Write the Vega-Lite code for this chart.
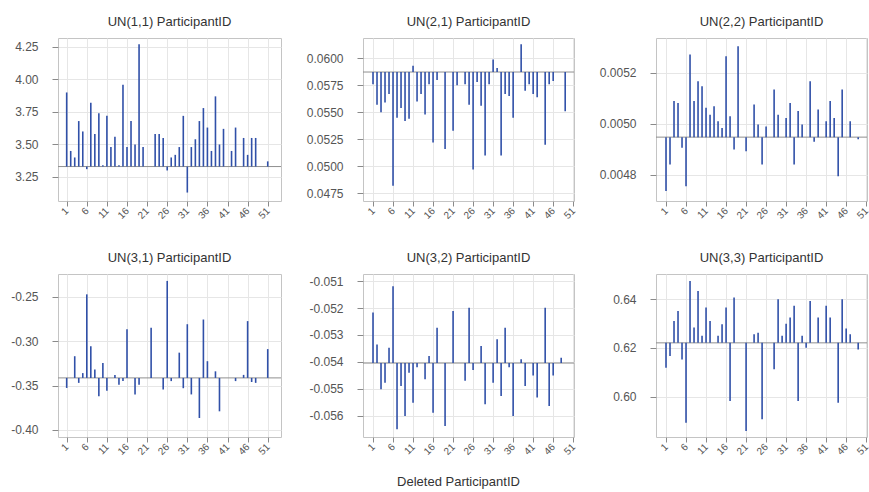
{
"$schema":"https://vega.github.io/schema/vega-lite/v6.json",
"background":"white",
"padding":{"left":10,"top":15,"right":0,"bottom":0},
"columns":3,
"bounds":"flush",
"spacing":{"row":73,"column":82},
"datasets":{
"bases":[{"p":"11","base":3.33},{"p":"21","base":0.05873},{"p":"22","base":0.004948},{"p":"31","base":-0.3414},{"p":"32","base":-0.05404},{"p":"33","base":0.6221}],
"vals":[
{"p":"11","id":1,"v":3.90},{"p":"11","id":2,"v":3.45},{"p":"11","id":3,"v":3.40},{"p":"11","id":4,"v":3.68},{"p":"11","id":5,"v":3.60},{"p":"11","id":6,"v":3.31},{"p":"11","id":7,"v":3.82},{"p":"11","id":8,"v":3.58},{"p":"11","id":9,"v":3.74},{"p":"11","id":10,"v":3.34},{"p":"11","id":11,"v":3.72},{"p":"11","id":12,"v":3.48},{"p":"11","id":13,"v":3.56},{"p":"11","id":14,"v":3.34},{"p":"11","id":15,"v":3.96},{"p":"11","id":16,"v":3.48},{"p":"11","id":17,"v":3.68},{"p":"11","id":18,"v":3.50},{"p":"11","id":19,"v":4.27},{"p":"11","id":20,"v":3.48},{"p":"11","id":23,"v":3.58},{"p":"11","id":24,"v":3.58},{"p":"11","id":25,"v":3.55},{"p":"11","id":26,"v":3.30},{"p":"11","id":27,"v":3.40},{"p":"11","id":28,"v":3.42},{"p":"11","id":29,"v":3.48},{"p":"11","id":30,"v":3.72},{"p":"11","id":31,"v":3.13},{"p":"11","id":32,"v":3.48},{"p":"11","id":33,"v":3.54},{"p":"11","id":34,"v":3.68},{"p":"11","id":35,"v":3.78},{"p":"11","id":36,"v":3.63},{"p":"11","id":37,"v":3.45},{"p":"11","id":38,"v":3.87},{"p":"11","id":39,"v":3.50},{"p":"11","id":40,"v":3.62},{"p":"11","id":42,"v":3.45},{"p":"11","id":43,"v":3.63},{"p":"11","id":45,"v":3.55},{"p":"11","id":46,"v":3.42},{"p":"11","id":47,"v":3.55},{"p":"11","id":48,"v":3.55},{"p":"11","id":51,"v":3.37},
{"p":"21","id":1,"v":0.0576},{"p":"21","id":2,"v":0.0557},{"p":"21","id":3,"v":0.0550},{"p":"21","id":4,"v":0.0559},{"p":"21","id":5,"v":0.0567},{"p":"21","id":6,"v":0.0482},{"p":"21","id":7,"v":0.0545},{"p":"21","id":8,"v":0.0554},{"p":"21","id":9,"v":0.0542},{"p":"21","id":10,"v":0.0544},{"p":"21","id":11,"v":0.0593},{"p":"21","id":12,"v":0.0560},{"p":"21","id":13,"v":0.0567},{"p":"21","id":14,"v":0.0548},{"p":"21","id":15,"v":0.0576},{"p":"21","id":16,"v":0.0522},{"p":"21","id":17,"v":0.0580},{"p":"21","id":19,"v":0.0516},{"p":"21","id":21,"v":0.0533},{"p":"21","id":22,"v":0.0575},{"p":"21","id":24,"v":0.0576},{"p":"21","id":25,"v":0.0557},{"p":"21","id":26,"v":0.0497},{"p":"21","id":27,"v":0.0578},{"p":"21","id":28,"v":0.0556},{"p":"21","id":29,"v":0.0510},{"p":"21","id":30,"v":0.0576},{"p":"21","id":31,"v":0.0599},{"p":"21","id":32,"v":0.0591},{"p":"21","id":33,"v":0.0510},{"p":"21","id":34,"v":0.0567},{"p":"21","id":35,"v":0.0565},{"p":"21","id":36,"v":0.0545},{"p":"21","id":38,"v":0.0613},{"p":"21","id":39,"v":0.0570},{"p":"21","id":40,"v":0.0576},{"p":"21","id":41,"v":0.0567},{"p":"21","id":42,"v":0.0564},{"p":"21","id":44,"v":0.0520},{"p":"21","id":45,"v":0.0576},{"p":"21","id":46,"v":0.0579},{"p":"21","id":49,"v":0.0551},
{"p":"22","id":1,"v":0.004737},{"p":"22","id":2,"v":0.004841},{"p":"22","id":3,"v":0.005089},{"p":"22","id":4,"v":0.005082},{"p":"22","id":5,"v":0.004906},{"p":"22","id":6,"v":0.004756},{"p":"22","id":7,"v":0.005271},{"p":"22","id":8,"v":0.005089},{"p":"22","id":9,"v":0.005167},{"p":"22","id":10,"v":0.005147},{"p":"22","id":11,"v":0.005063},{"p":"22","id":12,"v":0.005036},{"p":"22","id":13,"v":0.005069},{"p":"22","id":14,"v":0.005010},{"p":"22","id":15,"v":0.004984},{"p":"22","id":16,"v":0.005265},{"p":"22","id":17,"v":0.005030},{"p":"22","id":18,"v":0.004900},{"p":"22","id":19,"v":0.005304},{"p":"22","id":21,"v":0.004893},{"p":"22","id":23,"v":0.005076},{"p":"22","id":24,"v":0.004997},{"p":"22","id":25,"v":0.004841},{"p":"22","id":26,"v":0.004990},{"p":"22","id":28,"v":0.005134},{"p":"22","id":29,"v":0.005036},{"p":"22","id":31,"v":0.005023},{"p":"22","id":32,"v":0.005082},{"p":"22","id":33,"v":0.004841},{"p":"22","id":34,"v":0.005050},{"p":"22","id":35,"v":0.004997},{"p":"22","id":37,"v":0.005167},{"p":"22","id":38,"v":0.004930},{"p":"22","id":39,"v":0.005056},{"p":"22","id":41,"v":0.005010},{"p":"22","id":42,"v":0.005089},{"p":"22","id":43,"v":0.005023},{"p":"22","id":44,"v":0.004795},{"p":"22","id":45,"v":0.005134},{"p":"22","id":47,"v":0.005010},{"p":"22","id":49,"v":0.004940},
{"p":"31","id":1,"v":-0.3527},{"p":"31","id":3,"v":-0.3170},{"p":"31","id":4,"v":-0.3470},{"p":"31","id":5,"v":-0.3360},{"p":"31","id":6,"v":-0.2474},{"p":"31","id":7,"v":-0.3057},{"p":"31","id":8,"v":-0.3320},{"p":"31","id":9,"v":-0.3620},{"p":"31","id":10,"v":-0.3245},{"p":"31","id":11,"v":-0.3560},{"p":"31","id":13,"v":-0.3380},{"p":"31","id":14,"v":-0.3490},{"p":"31","id":15,"v":-0.3450},{"p":"31","id":16,"v":-0.2868},{"p":"31","id":18,"v":-0.3600},{"p":"31","id":19,"v":-0.3490},{"p":"31","id":22,"v":-0.2850},{"p":"31","id":25,"v":-0.3545},{"p":"31","id":26,"v":-0.2323},{"p":"31","id":27,"v":-0.3450},{"p":"31","id":29,"v":-0.3130},{"p":"31","id":30,"v":-0.3530},{"p":"31","id":31,"v":-0.2810},{"p":"31","id":32,"v":-0.3600},{"p":"31","id":34,"v":-0.3865},{"p":"31","id":35,"v":-0.2757},{"p":"31","id":36,"v":-0.3226},{"p":"31","id":38,"v":-0.3340},{"p":"31","id":39,"v":-0.3790},{"p":"31","id":43,"v":-0.3450},{"p":"31","id":45,"v":-0.3380},{"p":"31","id":46,"v":-0.2775},{"p":"31","id":47,"v":-0.3460},{"p":"31","id":48,"v":-0.3470},{"p":"31","id":51,"v":-0.3090},
{"p":"32","id":1,"v":-0.05217},{"p":"32","id":2,"v":-0.05335},{"p":"32","id":3,"v":-0.05501},{"p":"32","id":4,"v":-0.05477},{"p":"32","id":5,"v":-0.05347},{"p":"32","id":6,"v":-0.05119},{"p":"32","id":7,"v":-0.05649},{"p":"32","id":8,"v":-0.05489},{"p":"32","id":9,"v":-0.05600},{"p":"32","id":10,"v":-0.05440},{"p":"32","id":11,"v":-0.05551},{"p":"32","id":12,"v":-0.05420},{"p":"32","id":14,"v":-0.05464},{"p":"32","id":15,"v":-0.05378},{"p":"32","id":16,"v":-0.05588},{"p":"32","id":17,"v":-0.05273},{"p":"32","id":19,"v":-0.05637},{"p":"32","id":21,"v":-0.05211},{"p":"32","id":24,"v":-0.05470},{"p":"32","id":25,"v":-0.05199},{"p":"32","id":26,"v":-0.05430},{"p":"32","id":28,"v":-0.05341},{"p":"32","id":29,"v":-0.05557},{"p":"32","id":31,"v":-0.05477},{"p":"32","id":32,"v":-0.05316},{"p":"32","id":33,"v":-0.05526},{"p":"32","id":34,"v":-0.05273},{"p":"32","id":35,"v":-0.05420},{"p":"32","id":36,"v":-0.05600},{"p":"32","id":38,"v":-0.05390},{"p":"32","id":39,"v":-0.05489},{"p":"32","id":41,"v":-0.05450},{"p":"32","id":42,"v":-0.05532},{"p":"32","id":44,"v":-0.05199},{"p":"32","id":45,"v":-0.05563},{"p":"32","id":46,"v":-0.05450},{"p":"32","id":48,"v":-0.05384},
{"p":"33","id":1,"v":0.6119},{"p":"33","id":2,"v":0.6167},{"p":"33","id":3,"v":0.6311},{"p":"33","id":4,"v":0.6352},{"p":"33","id":5,"v":0.6153},{"p":"33","id":6,"v":0.5893},{"p":"33","id":7,"v":0.6475},{"p":"33","id":8,"v":0.6284},{"p":"33","id":9,"v":0.6434},{"p":"33","id":10,"v":0.6250},{"p":"33","id":11,"v":0.6366},{"p":"33","id":12,"v":0.6311},{"p":"33","id":14,"v":0.6250},{"p":"33","id":15,"v":0.6297},{"p":"33","id":16,"v":0.6366},{"p":"33","id":17,"v":0.5982},{"p":"33","id":18,"v":0.6407},{"p":"33","id":21,"v":0.5859},{"p":"33","id":23,"v":0.6256},{"p":"33","id":24,"v":0.6262},{"p":"33","id":25,"v":0.5907},{"p":"33","id":28,"v":0.6112},{"p":"33","id":29,"v":0.6400},{"p":"33","id":30,"v":0.6250},{"p":"33","id":31,"v":0.6300},{"p":"33","id":32,"v":0.6325},{"p":"33","id":33,"v":0.6373},{"p":"33","id":34,"v":0.5982},{"p":"33","id":35,"v":0.6250},{"p":"33","id":36,"v":0.6201},{"p":"33","id":37,"v":0.6393},{"p":"33","id":39,"v":0.6325},{"p":"33","id":41,"v":0.6373},{"p":"33","id":42,"v":0.6325},{"p":"33","id":44,"v":0.5975},{"p":"33","id":45,"v":0.6400},{"p":"33","id":46,"v":0.6280},{"p":"33","id":47,"v":0.6256},{"p":"33","id":49,"v":0.6194}
]},
"concat":[
{"width":223,"height":163,"title":"UN(1,1) ParticipantID","layer":[
 {"data":{"name":"bases"},"transform":[{"filter":"datum.p==='11'"}],"mark":{"type":"rule","color":"#8f8f8f"},"encoding":{"y":{"field":"base","type":"quantitative","scale":{"domain":[3.065,4.319],"nice":false,"zero":false},"axis":{"title":null,"values":[3.25,3.5,3.75,4,4.25],"format":".2f"}}}},
 {"data":{"name":"vals"},"transform":[{"filter":"datum.p==='11'"},{"lookup":"p","from":{"data":{"name":"bases"},"key":"p","fields":["base"]}}],"mark":{"type":"rule","color":"#3050a8","strokeWidth":1.6},"encoding":{"x":{"field":"id","type":"quantitative","scale":{"domain":[-1.16,54.3],"nice":false,"zero":false},"axis":{"title":null,"values":[1,6,11,16,21,26,31,36,41,46,51]}},"y":{"field":"v","type":"quantitative","axis":{"title":null,"values":[3.25,3.5,3.75,4,4.25],"format":".2f"}},"y2":{"field":"base"}}}
]},
{"width":211,"height":163,"title":"UN(2,1) ParticipantID","layer":[
 {"data":{"name":"bases"},"transform":[{"filter":"datum.p==='21'"}],"mark":{"type":"rule","color":"#8f8f8f"},"encoding":{"y":{"field":"base","type":"quantitative","scale":{"domain":[0.04679,0.06188],"nice":false,"zero":false},"axis":{"title":null,"values":[0.0475,0.05,0.0525,0.055,0.0575,0.06],"format":".4f"}}}},
 {"data":{"name":"vals"},"transform":[{"filter":"datum.p==='21'"},{"lookup":"p","from":{"data":{"name":"bases"},"key":"p","fields":["base"]}}],"mark":{"type":"rule","color":"#3050a8","strokeWidth":1.6},"encoding":{"x":{"field":"id","type":"quantitative","scale":{"domain":[-1.5,51.2],"nice":false,"zero":false},"axis":{"title":null,"values":[1,6,11,16,21,26,31,36,41,46,51]}},"y":{"field":"v","type":"quantitative","axis":{"title":null,"values":[0.0475,0.05,0.0525,0.055,0.0575,0.06],"format":".4f"}},"y2":{"field":"base"}}}
]},
{"width":211,"height":163,"title":"UN(2,2) ParticipantID","layer":[
 {"data":{"name":"bases"},"transform":[{"filter":"datum.p==='22'"}],"mark":{"type":"rule","color":"#8f8f8f"},"encoding":{"y":{"field":"base","type":"quantitative","scale":{"domain":[0.004698,0.005336],"nice":false,"zero":false},"axis":{"title":null,"values":[0.0048,0.005,0.0052],"format":".4f"}}}},
 {"data":{"name":"vals"},"transform":[{"filter":"datum.p==='22'"},{"lookup":"p","from":{"data":{"name":"bases"},"key":"p","fields":["base"]}}],"mark":{"type":"rule","color":"#3050a8","strokeWidth":1.6},"encoding":{"x":{"field":"id","type":"quantitative","scale":{"domain":[-1.5,51.2],"nice":false,"zero":false},"axis":{"title":null,"values":[1,6,11,16,21,26,31,36,41,46,51]}},"y":{"field":"v","type":"quantitative","axis":{"title":null,"values":[0.0048,0.005,0.0052],"format":".4f"}},"y2":{"field":"base"}}}
]},
{"width":223,"height":163,"title":"UN(3,1) ParticipantID","layer":[
 {"data":{"name":"bases"},"transform":[{"filter":"datum.p==='31'"}],"mark":{"type":"rule","color":"#8f8f8f"},"encoding":{"y":{"field":"base","type":"quantitative","scale":{"domain":[-0.4079,-0.2245],"nice":false,"zero":false},"axis":{"title":null,"values":[-0.4,-0.35,-0.3,-0.25],"format":".2f"}}}},
 {"data":{"name":"vals"},"transform":[{"filter":"datum.p==='31'"},{"lookup":"p","from":{"data":{"name":"bases"},"key":"p","fields":["base"]}}],"mark":{"type":"rule","color":"#3050a8","strokeWidth":1.6},"encoding":{"x":{"field":"id","type":"quantitative","scale":{"domain":[-1.16,54.3],"nice":false,"zero":false},"axis":{"title":null,"values":[1,6,11,16,21,26,31,36,41,46,51]}},"y":{"field":"v","type":"quantitative","axis":{"title":null,"values":[-0.4,-0.35,-0.3,-0.25],"format":".2f"}},"y2":{"field":"base"}}}
]},
{"width":211,"height":163,"title":"UN(3,2) ParticipantID","layer":[
 {"data":{"name":"bases"},"transform":[{"filter":"datum.p==='32'"}],"mark":{"type":"rule","color":"#8f8f8f"},"encoding":{"y":{"field":"base","type":"quantitative","scale":{"domain":[-0.05678,-0.05074],"nice":false,"zero":false},"axis":{"title":null,"values":[-0.056,-0.055,-0.054,-0.053,-0.052,-0.051],"format":".3f"}}}},
 {"data":{"name":"vals"},"transform":[{"filter":"datum.p==='32'"},{"lookup":"p","from":{"data":{"name":"bases"},"key":"p","fields":["base"]}}],"mark":{"type":"rule","color":"#3050a8","strokeWidth":1.6},"encoding":{"x":{"field":"id","type":"quantitative","scale":{"domain":[-1.5,51.2],"nice":false,"zero":false},"axis":{"title":"Deleted ParticipantID","titleX":95,"titleY":48,"titleBaseline":"alphabetic","titleAlign":"center","titleAnchor":null,"titleFontSize":13,"titleFontWeight":"normal","titleColor":"#333333","values":[1,6,11,16,21,26,31,36,41,46,51]}},"y":{"field":"v","type":"quantitative","axis":{"title":null,"values":[-0.056,-0.055,-0.054,-0.053,-0.052,-0.051],"format":".3f"}},"y2":{"field":"base"}}}
]},
{"width":211,"height":163,"title":"UN(3,3) ParticipantID","layer":[
 {"data":{"name":"bases"},"transform":[{"filter":"datum.p==='33'"}],"mark":{"type":"rule","color":"#8f8f8f"},"encoding":{"y":{"field":"base","type":"quantitative","scale":{"domain":[0.5834,0.6504],"nice":false,"zero":false},"axis":{"title":null,"values":[0.6,0.62,0.64],"format":".2f"}}}},
 {"data":{"name":"vals"},"transform":[{"filter":"datum.p==='33'"},{"lookup":"p","from":{"data":{"name":"bases"},"key":"p","fields":["base"]}}],"mark":{"type":"rule","color":"#3050a8","strokeWidth":1.6},"encoding":{"x":{"field":"id","type":"quantitative","scale":{"domain":[-1.5,51.2],"nice":false,"zero":false},"axis":{"title":null,"values":[1,6,11,16,21,26,31,36,41,46,51]}},"y":{"field":"v","type":"quantitative","axis":{"title":null,"values":[0.6,0.62,0.64],"format":".2f"}},"y2":{"field":"base"}}}
]}
],
"config":{
 "font":"Liberation Sans",
 "view":{"stroke":"#c4c4c4","strokeWidth":1},
 "axis":{"grid":true,"gridColor":"#e6e6e6","domain":false,"tickColor":"#8a8a8a","labelColor":"#555555","labelFont":"Liberation Sans"},
 "axisX":{"labelFontSize":10,"labelAngle":-45,"labelAlign":"right","labelBaseline":"middle","labelPadding":3,"tickSize":5},
 "axisY":{"labelFontSize":12,"labelPadding":14,"tickSize":6,"labelExpr":"replace(datum.label,'\u2212','-')"},
 "title":{"fontSize":13,"fontWeight":"normal","color":"#333333","offset":9,"baseline":"alphabetic","font":"Liberation Sans","anchor":"middle"}
}
}
